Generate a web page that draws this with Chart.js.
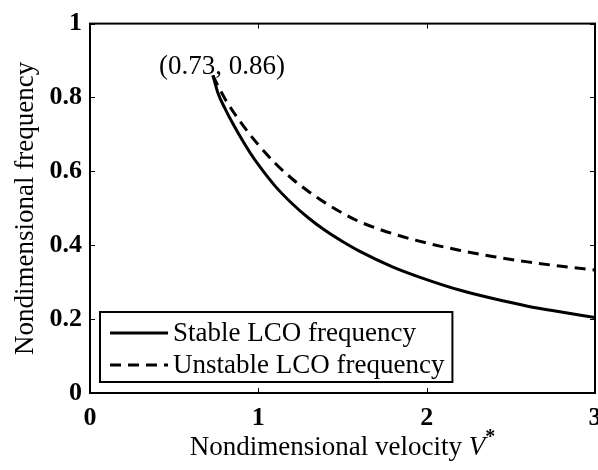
<!DOCTYPE html>
<html>
<head>
<meta charset="utf-8">
<script src="https://cdn.jsdelivr.net/npm/chart.js@4"></script>
<style>
  html, body { margin: 0; padding: 0; background: #fff; }
  #clip { width: 598px; height: 470px; overflow: hidden; }
  #box { position: relative; width: 612px; height: 470px; }
</style>
</head>
<body>
<div id="clip"><div id="box"><canvas id="lco"></canvas></div></div>
<script>
// Nondimensional velocity V* and LCO frequencies along both branches
const velocity = [0.73, 0.76, 0.8, 0.85, 0.9, 0.95, 1.0, 1.1, 1.2, 1.3, 1.4, 1.5, 1.6, 1.8, 2.0, 2.2, 2.4, 2.6, 2.8, 3.0];
const stableFreq = [0.86, 0.812, 0.772, 0.728, 0.688, 0.651, 0.618, 0.56, 0.513, 0.473, 0.439, 0.41, 0.384, 0.341, 0.307, 0.278, 0.255, 0.235, 0.219, 0.204];
const unstableFreq = [0.86, 0.832, 0.798, 0.762, 0.73, 0.70, 0.672, 0.622, 0.58, 0.545, 0.514, 0.487, 0.464, 0.431, 0.406, 0.386, 0.369, 0.355, 0.343, 0.333];
const seriesLabels = ['Stable LCO frequency', 'Unstable LCO frequency'];
const xTicks = [0, 1, 2, 3];
const yTicks = [0, 0.2, 0.4, 0.6, 0.8, 1];

const SERIF = '"Liberation Serif", "Times New Roman", serif';
const pts = ys => velocity.map((v, i) => ({ x: v, y: ys[i] }));

// box frame + inward ticks on all four sides
const frame = {
  id: 'frame',
  afterDatasetsDraw(chart) {
    const { ctx, chartArea: a, scales: { x, y } } = chart;
    ctx.save();
    ctx.strokeStyle = '#000';
    ctx.lineWidth = 1;
    ctx.beginPath();
    xTicks.forEach(v => {
      const px = Math.round(x.getPixelForValue(v)) + 0.5;
      ctx.moveTo(px, a.bottom); ctx.lineTo(px, a.bottom - 5);
      ctx.moveTo(px, a.top); ctx.lineTo(px, a.top + 5);
    });
    yTicks.forEach(v => {
      const py = Math.round(y.getPixelForValue(v)) + 0.5;
      ctx.moveTo(a.left, py); ctx.lineTo(a.left + 5, py);
      ctx.moveTo(a.right, py); ctx.lineTo(a.right - 5, py);
    });
    ctx.stroke();
    ctx.lineWidth = 2;
    ctx.strokeRect(a.left, a.top, a.right - a.left, a.bottom - a.top);
    ctx.restore();
  }
};

// point label at the start of the branches
const startLabel = {
  id: 'startLabel',
  afterDatasetsDraw(chart) {
    const p = chart.getDatasetMeta(0).data[0];
    const { ctx } = chart;
    ctx.save();
    ctx.font = '27px ' + SERIF;
    ctx.fillStyle = '#000';
    ctx.textAlign = 'center';
    ctx.textBaseline = 'alphabetic';
    ctx.fillText('(' + velocity[0] + ', ' + stableFreq[0] + ')', p.x + 9, p.y - 1);
    ctx.restore();
  }
};

// legend box in the lower-left corner of the plot
const boxLegend = {
  id: 'boxLegend',
  afterDraw(chart) {
    const { ctx, chartArea: a } = chart;
    ctx.save();
    ctx.font = '27px ' + SERIF;
    const textW = Math.max(...seriesLabels.map(t => ctx.measureText(t).width));
    const left = a.left + 10, top = a.bottom - 81;
    const w = 73 + textW + 8, h = 70;
    ctx.fillStyle = '#fff';
    ctx.fillRect(left, top, w, h);
    ctx.strokeStyle = '#000';
    ctx.lineWidth = 2;
    ctx.strokeRect(left, top, w, h);
    chart.data.datasets.forEach((ds, i) => {
      const cy = top + 21 + i * 32;
      ctx.beginPath();
      ctx.lineWidth = ds.borderWidth;
      ctx.setLineDash(ds.borderDash || []);
      ctx.moveTo(left + 10, cy);
      ctx.lineTo(left + 68, cy);
      ctx.stroke();
      ctx.setLineDash([]);
      ctx.fillStyle = '#000';
      ctx.textBaseline = 'middle';
      ctx.fillText(ds.label, left + 73, cy + 1);
    });
    ctx.restore();
  }
};

// x title with italic V and superscript star
const xTitle = {
  id: 'xTitle',
  afterDraw(chart) {
    const { ctx, chartArea: a } = chart;
    const base = 455;
    ctx.save();
    ctx.fillStyle = '#000';
    ctx.textBaseline = 'alphabetic';
    const t1 = 'Nondimensional velocity ';
    ctx.font = '27px ' + SERIF;
    const w1 = ctx.measureText(t1).width;
    ctx.font = 'italic 27px ' + SERIF;
    const w2 = ctx.measureText('V').width;
    ctx.font = 'bold 20px ' + SERIF;
    const w3 = ctx.measureText('*').width;
    let x0 = (a.left + a.right) / 2 - (w1 + w2 + w3) / 2;
    ctx.font = '27px ' + SERIF;
    ctx.fillText(t1, x0, base);
    ctx.font = 'italic 27px ' + SERIF;
    ctx.fillText('V', x0 + w1, base);
    ctx.font = 'bold 20px ' + SERIF;
    ctx.fillText('*', x0 + w1 + w2, base - 12);
    ctx.restore();
  }
};

new Chart(document.getElementById('lco'), {
  type: 'line',
  data: {
    datasets: [
      {
        label: seriesLabels[0],
        data: pts(stableFreq),
        borderColor: '#000',
        borderWidth: 3,
        pointRadius: 0,
        cubicInterpolationMode: 'monotone',
        fill: false
      },
      {
        label: seriesLabels[1],
        data: pts(unstableFreq),
        borderColor: '#000',
        borderWidth: 3,
        borderDash: [11, 7],
        pointRadius: 0,
        cubicInterpolationMode: 'monotone',
        fill: false
      }
    ]
  },
  options: {
    responsive: true,
    maintainAspectRatio: false,
    animation: false,
    layout: { padding: { top: 15, right: 17, left: 0, bottom: 0 } },
    plugins: { legend: { display: false }, tooltip: { enabled: false } },
    scales: {
      x: {
        type: 'linear',
        min: 0,
        max: 3,
        afterBuildTicks: s => { s.ticks = xTicks.map(v => ({ value: v })); },
        afterFit: s => { s.height = 77; },
        grid: { display: false, drawTicks: false },
        border: { display: false },
        ticks: {
          color: '#000',
          padding: 10,
          callback: v => String(v),
          font: { family: SERIF, size: 26, weight: 'bold' }
        }
      },
      y: {
        type: 'linear',
        min: 0,
        max: 1,
        afterBuildTicks: s => { s.ticks = yTicks.map(v => ({ value: v })); },
        afterFit: s => { s.width = 90; },
        grid: { display: false, drawTicks: false },
        border: { display: false },
        ticks: {
          color: '#000',
          padding: 8,
          callback: v => String(v),
          font: { family: SERIF, size: 26, weight: 'bold' }
        },
        title: {
          display: true,
          text: 'Nondimensional frequency',
          color: '#000',
          padding: { top: 10 },
          font: { family: SERIF, size: 27 }
        }
      }
    }
  },
  plugins: [frame, startLabel, boxLegend, xTitle]
});
</script>
</body>
</html>
